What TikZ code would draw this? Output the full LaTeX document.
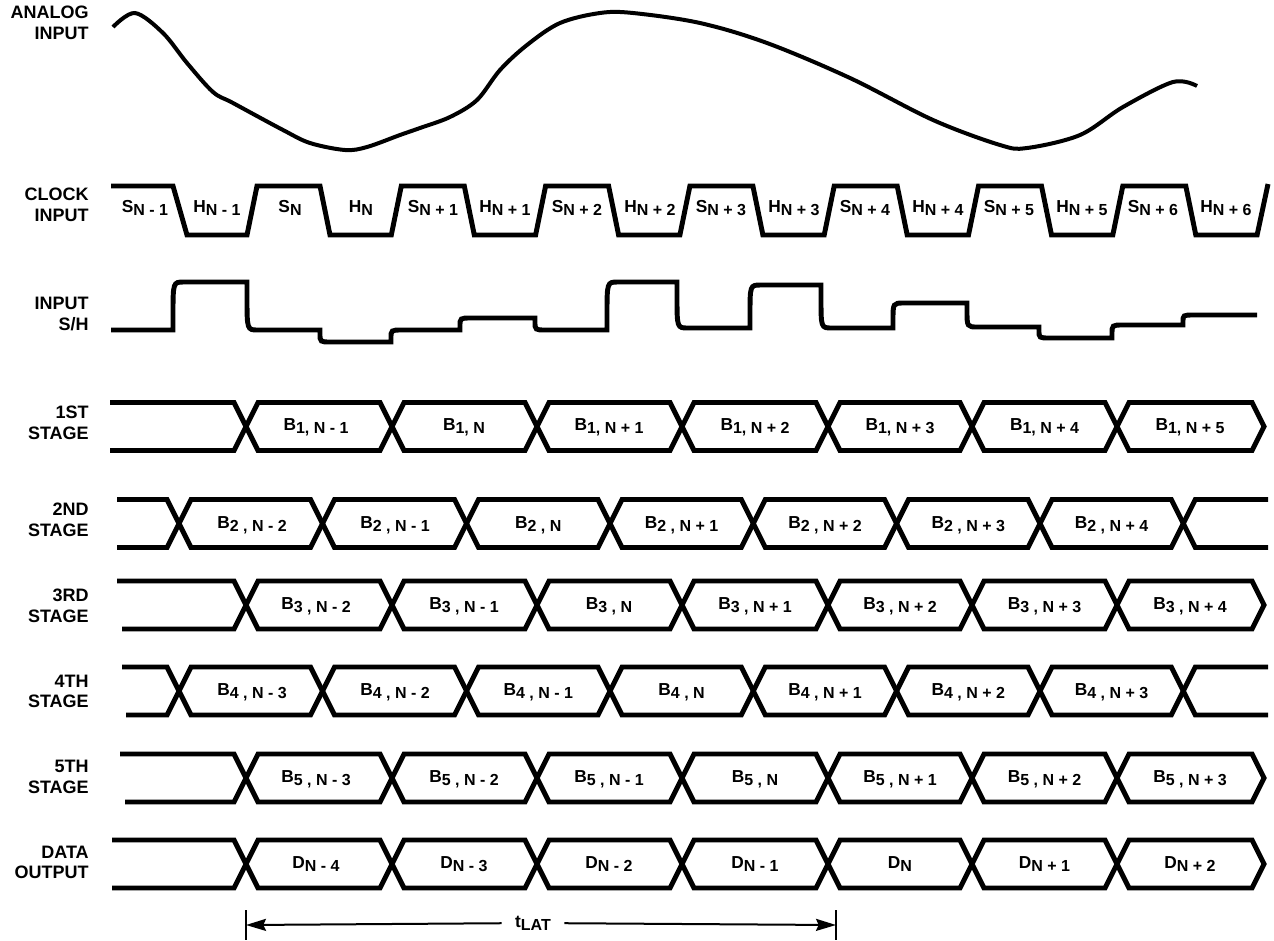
\documentclass[tikz,border=0pt]{standalone}
\usepackage{fontspec}
\setmainfont{Liberation Sans}
\usetikzlibrary{arrows.meta}
\newcommand\lab[2]{{\fontsize{13}{15}\selectfont #1}\raisebox{-2.5pt}{\fontsize{12}{14}\selectfont #2}}
\newcommand\busodd[3]{%
 \draw[bus] (#2,#1-24) \foreach \c [count=\i] in {246,392,537,682,828,972,1117} { -- (\c-12,{#1-24*cos((\i-1)*180)}) -- (\c+12,{#1-24*cos(\i*180)}) } -- (1252,#1+24) -- (1264,#1) -- (1252,#1-24) \foreach \c [count=\i] in {1117,972,828,682,537,392,246} { -- (\c+12,{#1-24*cos((\i-1)*180)}) -- (\c-12,{#1-24*cos(\i*180)}) } -- (#3,#1+24);}
\newcommand\buseven[3]{%
 \draw[bus] (#2,#1-24) \foreach \c [count=\i] in {179,322.5,466.6,610,753.3,896.6,1040,1183.3} { -- (\c-12,{#1-24*cos((\i-1)*180)}) -- (\c+12,{#1-24*cos(\i*180)}) } -- (1268,#1-24);
 \draw[bus] (#3,#1+24) \foreach \c [count=\i] in {179,322.5,466.6,610,753.3,896.6,1040,1183.3} { -- (\c-12,{#1+24*cos((\i-1)*180)}) -- (\c+12,{#1+24*cos(\i*180)}) } -- (1268,#1+24);}
\begin{document}
\begin{tikzpicture}[x=0.75pt,y=-0.75pt,
  every node/.style={font=\bfseries, inner sep=0pt},
  side/.style={anchor=east, align=right, font=\bfseries\fontsize{13.5}{15.5}\selectfont},
  wave/.style={line width=3.7pt, line join=miter},
  bus/.style={line width=3.7pt, line join=miter},
  analog/.style={line width=3pt, line cap=butt},
  sig/.style={anchor=base},
  dim/.style={line width=1.5pt}]
\useasboundingbox (0,0) rectangle (1274,940);

% side labels
\node[side] (lA) at (89,23) {ANALOG\\INPUT};
\node[side] (lC) at (89,205) {CLOCK\\INPUT};
\node[side] (lS) at (89,314) {INPUT\\S/H};
\node[side] (l1) at (89,422.5) {1ST\\STAGE};
\node[side] (l2) at (89,520) {2ND\\STAGE};
\node[side] (l3) at (89,606) {3RD\\STAGE};
\node[side] (l4) at (89,691.5) {4TH\\STAGE};
\node[side] (l5) at (89,777) {5TH\\STAGE};
\node[side] (l6) at (89,862.5) {DATA\\OUTPUT};

% analog input
\draw[analog] plot[smooth, tension=0.55] coordinates {(113,27) (135,13) (163,33) (187,63) (213,92) (233,103) (283,130) (310,143) (345,150) (367,147) (400,135) (420,128) (450,117) (477,100) (500,70) (527,45) (560,23) (600,13) (633,13) (700,23) (767,43) (850,78) (933,120) (1000,145) (1027,148) (1080,135) (1123,107) (1173,82) (1197,86)};

% clock input
\draw[wave] (111,186) -- (173,186) -- (187,235) -- (247,235) -- (257,186) -- (320,186) -- (330,235) -- (391.3,235) -- (401.3,186) -- (464.3,186) -- (474.3,235) -- (535.6,235) -- (545.6,186) -- (608.6,186) -- (618.6,235) -- (679.9,235) -- (689.9,186) -- (752.9,186) -- (762.9,235) -- (824.2,235) -- (834.2,186) -- (897.2,186) -- (907.2,235) -- (968.5,235) -- (978.5,186) -- (1041.5,186) -- (1051.5,235) -- (1112.8,235) -- (1122.8,186) -- (1185.8,186) -- (1195.8,235) -- (1257.1,235) -- (1268,184);
\node[sig] (c1) at (145,212) {\lab{S}{N - 1}};
\node[sig] (c2) at (217,212) {\lab{H}{N - 1}};
\node[sig] (c3) at (290,212) {\lab{S}{N}};
\node[sig] (c4) at (361,212) {\lab{H}{N}};
\node[sig] (c5) at (433,212) {\lab{S}{N + 1}};
\node[sig] (c6) at (505,212) {\lab{H}{N + 1}};
\node[sig] (c7) at (577,212) {\lab{S}{N + 2}};
\node[sig] (c8) at (650,212) {\lab{H}{N + 2}};
\node[sig] (c9) at (721,212) {\lab{S}{N + 3}};
\node[sig] (c10) at (794,212) {\lab{H}{N + 3}};
\node[sig] (c11) at (865,212) {\lab{S}{N + 4}};
\node[sig] (c12) at (938,212) {\lab{H}{N + 4}};
\node[sig] (c13) at (1009,212) {\lab{S}{N + 5}};
\node[sig] (c14) at (1082,212) {\lab{H}{N + 5}};
\node[sig] (c15) at (1153,212) {\lab{S}{N + 6}};
\node[sig] (c16) at (1226,212) {\lab{H}{N + 6}};

% input S/H
\draw[wave] (111,330) \foreach \a/\b/\c in {173/330/282, 247/282/330, 320/330/342, 391/342/330, 460/330/318, 535/318/330, 607/330/282, 677/282/328, 750/328/285, 821/285/328, 893/328/303, 967/303/327, 1039/327/338, 1112/338/325, 1183/325/315} { -- (\a,\b) -- (\a,{\b+0.3*(\c-\b)}) .. controls (\a,\c) .. (\a+11,\c) } -- (1257,315);

% stages
\busodd{426.5}{110}{110}
\buseven{523.5}{117}{117}
\busodd{605}{117}{122}
\buseven{691}{122}{126}
\busodd{778}{120}{125}
\busodd{864}{112}{112}

\foreach \x/\t [count=\i] in {316/{1, N - 1},464/{1, N},609/{1, N + 1},755/{1, N + 2},900/{1, N + 3},1044.5/{1, N + 4},1190/{1, N + 5}}
  \node[sig] (b1\i) at (\x,430) {\lab{B}{\t}};
\foreach \x/\t [count=\i] in {252/{2 , N - 2},395/{2 , N - 1},538.3/{2 , N},681.6/{2 , N + 1},825/{2 , N + 2},968.3/{2 , N + 3},1111.6/{2 , N + 4}}
  \node[sig] (b2\i) at (\x,528) {\lab{B}{\t}};
\foreach \x/\t [count=\i] in {316/{3 , N - 2},464/{3 , N - 1},609/{3 , N},755/{3 , N + 1},900/{3 , N + 2},1044.5/{3 , N + 3},1190/{3 , N + 4}}
  \node[sig] (b3\i) at (\x,609.5) {\lab{B}{\t}};
\foreach \x/\t [count=\i] in {252/{4 , N - 3},395/{4 , N - 2},538.3/{4 , N - 1},681.6/{4 , N},825/{4 , N + 1},968.3/{4 , N + 2},1111.6/{4 , N + 3}}
  \node[sig] (b4\i) at (\x,695.5) {\lab{B}{\t}};
\foreach \x/\t [count=\i] in {316/{5 , N - 3},464/{5 , N - 2},609/{5 , N - 1},755/{5 , N},900/{5 , N + 1},1044.5/{5 , N + 2},1190/{5 , N + 3}}
  \node[sig] (b5\i) at (\x,782.5) {\lab{B}{\t}};
\foreach \x/\t [count=\i] in {316/{N - 4},464/{N - 3},609/{N - 2},755/{N - 1},900/{N},1044.5/{N + 1},1190/{N + 2}}
  \node[sig] (d\i) at (\x,868) {\lab{D}{\t}};

% latency
\coordinate (tl) at (246,925);
\coordinate (tr) at (836,925);
\draw[dim] (246,910) -- (246,940);
\draw[dim] (836,910) -- (836,940);
\node[inner xsep=10pt] (tlat) at (533,923) {\lab{t}{LAT}};
\draw[dim,-{Stealth[length=15pt,width=9pt,inset=2pt]}] (tlat) -- (tl);
\draw[dim,-{Stealth[length=15pt,width=9pt,inset=2pt]}] (tlat) -- (tr);
\end{tikzpicture}
\end{document}
